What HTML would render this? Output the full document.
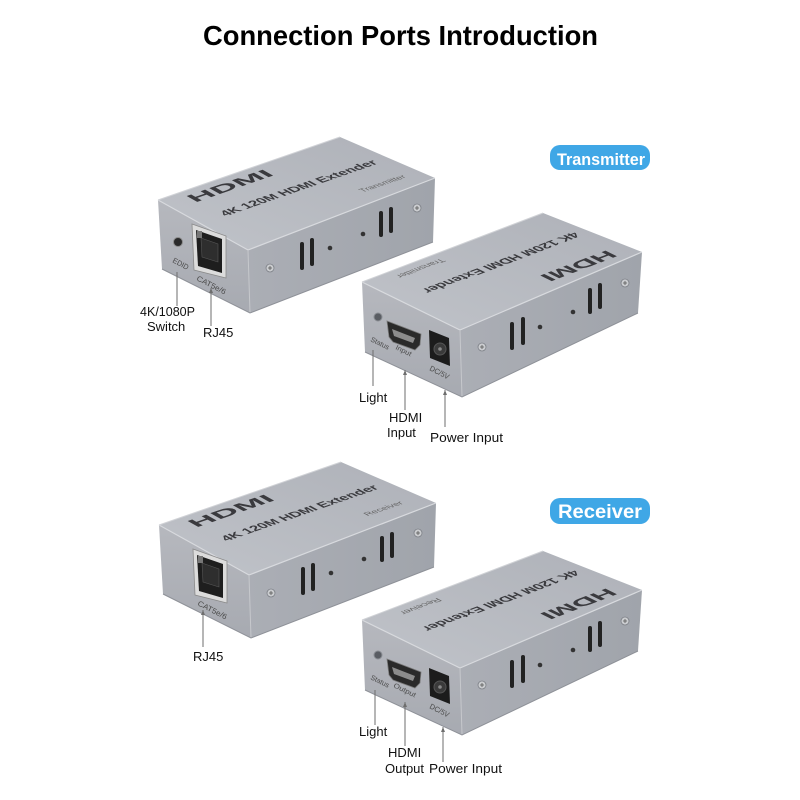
<!DOCTYPE html>
<html><head><meta charset="utf-8">
<style>
html,body{margin:0;padding:0;background:#fff;}
svg{display:block;}
text{font-family:"Liberation Sans",Arial,sans-serif;}
</style></head><body>
<svg width="800" height="800" viewBox="0 0 800 800" xmlns="http://www.w3.org/2000/svg">
<defs>
 <linearGradient id="topg" x1="0" y1="1" x2="1" y2="0">
  <stop offset="0" stop-color="#c0c3c9"/><stop offset="1" stop-color="#aeb1b8"/>
 </linearGradient>
 <linearGradient id="sideg" x1="0" y1="0" x2="1" y2="0">
  <stop offset="0" stop-color="#abaeb5"/><stop offset="1" stop-color="#a0a4ab"/>
 </linearGradient>
 <linearGradient id="frontg" x1="0" y1="0" x2="0" y2="1">
  <stop offset="0" stop-color="#b6b8be"/><stop offset="1" stop-color="#a7aab1"/>
 </linearGradient>
 <g id="screw">
  <circle r="4" fill="#cacccf" stroke="#7d8087" stroke-width="0.8"/>
  <path d="M-2 0H2M0 -2V2" stroke="#555" stroke-width="0.8"/>
 </g>

 <!-- left-style body (front face on left, RJ45) -->
 <g id="bodyL">
  <polygon points="158,200 248,250 250,313 162,269" fill="url(#frontg)"/>
  <polygon points="248,250 435,178 433,242 250,313" fill="url(#sideg)"/>
  <polygon points="158,200 340,137 435,178 248,250" fill="url(#topg)"/>
  <polyline points="158,200 248,250 435,178" fill="none" stroke="#d8dade" stroke-width="1.2"/>
  <line x1="158" y1="200" x2="340" y2="137" stroke="#d0d2d6" stroke-width="1"/>
  <line x1="248" y1="250" x2="250" y2="313" stroke="#c6c8cc" stroke-width="1"/>
  <polyline points="162,269 250,313 433,242" fill="none" stroke="#8e9198" stroke-width="1"/>
  <rect x="300" y="242" width="4" height="28" rx="2" fill="#222"/>
  <rect x="310" y="238" width="4" height="28" rx="2" fill="#222"/>
  <rect x="379" y="211" width="4" height="26" rx="2" fill="#222"/>
  <rect x="389" y="207" width="4" height="26" rx="2" fill="#222"/>
  <circle cx="330" cy="248" r="2.3" fill="#333"/>
  <circle cx="363" cy="234" r="2.3" fill="#333"/>
  <use href="#screw" x="270" y="268"/>
  <use href="#screw" x="417" y="208"/>
  <!-- RJ45 -->
  <polygon points="192,224 226,236 226,278 194,270" fill="#dcdcdc" stroke="#8a8a8a" stroke-width="0.8"/>
  <polygon points="196,230 222,239 222,273 198,266" fill="#1e1e1e"/>
  <polygon points="201,238 218,244 218,262 202,257" fill="#2e2e2e" stroke="#555" stroke-width="0.6"/>
  <rect x="197" y="231" width="5" height="7" fill="#777"/>
  <text x="0" y="0" font-size="7.5" fill="#4a4a4a" transform="translate(196,280) rotate(27)" textLength="32" lengthAdjust="spacingAndGlyphs">CAT5e/6</text>
 </g>

 <!-- right-style body (HDMI port, DC jack) -->
 <g id="bodyR">
  <polygon points="362,282 460,330 462,397 365,352" fill="url(#frontg)"/>
  <polygon points="460,330 642,252 638,313 462,397" fill="url(#sideg)"/>
  <polygon points="362,282 543,213 642,252 460,330" fill="url(#topg)"/>
  <polyline points="362,282 460,330 642,252" fill="none" stroke="#d8dade" stroke-width="1.2"/>
  <line x1="362" y1="282" x2="543" y2="213" stroke="#d0d2d6" stroke-width="1"/>
  <line x1="460" y1="330" x2="462" y2="397" stroke="#c6c8cc" stroke-width="1"/>
  <polyline points="365,352 462,397 638,313" fill="none" stroke="#8e9198" stroke-width="1"/>
  <rect x="510" y="322" width="4" height="28" rx="2" fill="#222"/>
  <rect x="521" y="317" width="4" height="28" rx="2" fill="#222"/>
  <rect x="588" y="288" width="4" height="26" rx="2" fill="#222"/>
  <rect x="598" y="283" width="4" height="26" rx="2" fill="#222"/>
  <circle cx="540" cy="327" r="2.3" fill="#333"/>
  <circle cx="573" cy="312" r="2.3" fill="#333"/>
  <use href="#screw" x="482" y="347"/>
  <use href="#screw" x="625" y="283"/>
  <!-- LED -->
  <circle cx="378" cy="317" r="4" fill="#5a5d63" stroke="#8a8d93" stroke-width="1"/>
  <!-- HDMI port -->
  <polygon points="387,321 421,334 420,345 415,350 393,342 389,337" fill="#2a2a2a" stroke="#7a7a7a" stroke-width="0.8"/>
  <polygon points="392,329 415,338 413,343 394,336" fill="#8c8c8c"/>
  <!-- DC jack -->
  <polygon points="429,330 449,338 450,366 430,358" fill="#1c1c1c"/>
  <circle cx="440" cy="349" r="6" fill="#3a3a3a" stroke="#555" stroke-width="1"/>
  <circle cx="440" cy="349" r="1.8" fill="#888"/>
  <text x="0" y="0" font-size="7" fill="#4a4a4a" transform="translate(370,341) rotate(26)" textLength="20" lengthAdjust="spacingAndGlyphs">Status</text>
  <text x="0" y="0" font-size="7.5" fill="#4a4a4a" transform="translate(429,370) rotate(27)" textLength="21" lengthAdjust="spacingAndGlyphs">DC/5V</text>
 </g>
</defs>

<!-- Title -->
<text x="203" y="45" font-size="28" font-weight="bold" fill="#000" textLength="395" lengthAdjust="spacingAndGlyphs">Connection Ports Introduction</text>

<!-- Badges -->
<rect x="550" y="145" width="100" height="25" rx="10" fill="#3fa7e6"/>
<text x="557" y="165" font-size="16.5" font-weight="bold" fill="#fff" textLength="88" lengthAdjust="spacingAndGlyphs">Transmitter</text>
<rect x="550" y="498" width="100" height="26" rx="10" fill="#3fa7e6"/>
<text x="558" y="518" font-size="19" font-weight="bold" fill="#fff" textLength="84" lengthAdjust="spacingAndGlyphs">Receiver</text>

<!-- Box 1: transmitter (RJ45 side) -->
<use href="#bodyL"/>
<circle cx="178" cy="242" r="4.5" fill="#2a2a2a" stroke="#8a8a8a" stroke-width="1"/>
<text x="0" y="0" font-size="7.5" fill="#4a4a4a" transform="translate(172,262) rotate(28)" textLength="17" lengthAdjust="spacingAndGlyphs">EDID</text>
<g transform="matrix(0.91,-0.315,0.9,0.5,158,200)">
 <text x="22" y="19" font-size="17" font-weight="bold" fill="#3a3a3e" textLength="88" lengthAdjust="spacingAndGlyphs">HDMI</text>
 <text x="26" y="49" font-size="12" font-weight="bold" fill="#3a3a3e" textLength="168" lengthAdjust="spacingAndGlyphs">4K 120M HDMI Extender</text>
 <text x="148" y="78" font-size="8" fill="#666" textLength="48" lengthAdjust="spacingAndGlyphs">Transmitter</text>
</g>

<!-- Box 2: transmitter (HDMI side) -->
<use href="#bodyR"/>
<text x="0" y="0" font-size="7" fill="#4a4a4a" transform="translate(395,349) rotate(26)" textLength="17" lengthAdjust="spacingAndGlyphs">Input</text>
<g transform="matrix(0.905,-0.345,0.98,0.48,362,282)">
 <text x="155" y="86" font-size="17" font-weight="bold" fill="#3a3a3e" text-anchor="middle" textLength="76" lengthAdjust="spacingAndGlyphs" transform="rotate(180,155,79)">HDMI</text>
 <text x="111" y="44.5" font-size="12" font-weight="bold" fill="#3a3a3e" text-anchor="middle" textLength="168" lengthAdjust="spacingAndGlyphs" transform="rotate(180,111,40)">4K 120M HDMI Extender</text>
 <text x="54" y="13.5" font-size="8" fill="#666" text-anchor="middle" textLength="50" lengthAdjust="spacingAndGlyphs" transform="rotate(180,54,10.5)">Transmitter</text>
</g>

<!-- Box 3: receiver (RJ45 side) -->
<g transform="translate(1,325)">
 <use href="#bodyL"/>
 <g transform="matrix(0.91,-0.315,0.9,0.5,158,200)">
  <text x="22" y="19" font-size="17" font-weight="bold" fill="#3a3a3e" textLength="88" lengthAdjust="spacingAndGlyphs">HDMI</text>
  <text x="26" y="49" font-size="12" font-weight="bold" fill="#3a3a3e" textLength="168" lengthAdjust="spacingAndGlyphs">4K 120M HDMI Extender</text>
  <text x="152" y="78" font-size="8" fill="#666" textLength="40" lengthAdjust="spacingAndGlyphs">Receiver</text>
 </g>
</g>

<!-- Box 4: receiver (HDMI side) -->
<g transform="translate(0,338)">
 <use href="#bodyR"/>
 <text x="0" y="0" font-size="7" fill="#4a4a4a" transform="translate(393,349) rotate(26)" textLength="24" lengthAdjust="spacingAndGlyphs">Output</text>
 <g transform="matrix(0.905,-0.345,0.98,0.48,362,282)">
  <text x="155" y="86" font-size="17" font-weight="bold" fill="#3a3a3e" text-anchor="middle" textLength="76" lengthAdjust="spacingAndGlyphs" transform="rotate(180,155,79)">HDMI</text>
  <text x="111" y="44.5" font-size="12" font-weight="bold" fill="#3a3a3e" text-anchor="middle" textLength="168" lengthAdjust="spacingAndGlyphs" transform="rotate(180,111,40)">4K 120M HDMI Extender</text>
  <text x="54" y="13.5" font-size="8" fill="#666" text-anchor="middle" textLength="42" lengthAdjust="spacingAndGlyphs" transform="rotate(180,54,10.5)">Receiver</text>
 </g>
</g>

<!-- Connector lines -->
<g stroke="#6e6e6e" stroke-width="1">
 <line x1="177" y1="272" x2="177" y2="306"/>
 <line x1="211" y1="288" x2="211" y2="326"/>
 <line x1="373" y1="350" x2="373" y2="386"/>
 <line x1="405" y1="370" x2="405" y2="410"/>
 <line x1="445" y1="390" x2="445" y2="427"/>
 <line x1="203" y1="610" x2="203" y2="647"/>
 <line x1="375" y1="690" x2="375" y2="725"/>
 <line x1="405" y1="702" x2="405" y2="746"/>
 <line x1="443" y1="727" x2="443" y2="762"/>
</g>
<g fill="#6e6e6e">
 <path d="M211 288l-2 5h4z"/>
 <path d="M405 370l-2 5h4z"/>
 <path d="M445 390l-2 5h4z"/>
 <path d="M203 610l-2 5h4z"/>
 <path d="M405 702l-2 5h4z"/>
 <path d="M443 727l-2 5h4z"/>
</g>

<!-- Labels -->
<g font-size="13" fill="#111">
 <text x="140" y="316" textLength="55" lengthAdjust="spacingAndGlyphs">4K/1080P</text>
 <text x="147" y="331">Switch</text>
 <text x="203" y="337">RJ45</text>
 <text x="359" y="402">Light</text>
 <text x="389" y="422">HDMI</text>
 <text x="387" y="437">Input</text>
 <text x="430" y="442" textLength="73" lengthAdjust="spacingAndGlyphs">Power Input</text>
 <text x="193" y="661">RJ45</text>
 <text x="359" y="736">Light</text>
 <text x="388" y="757">HDMI</text>
 <text x="385" y="773">Output</text>
 <text x="429" y="773" textLength="73" lengthAdjust="spacingAndGlyphs">Power Input</text>
</g>
</svg>
</body></html>
